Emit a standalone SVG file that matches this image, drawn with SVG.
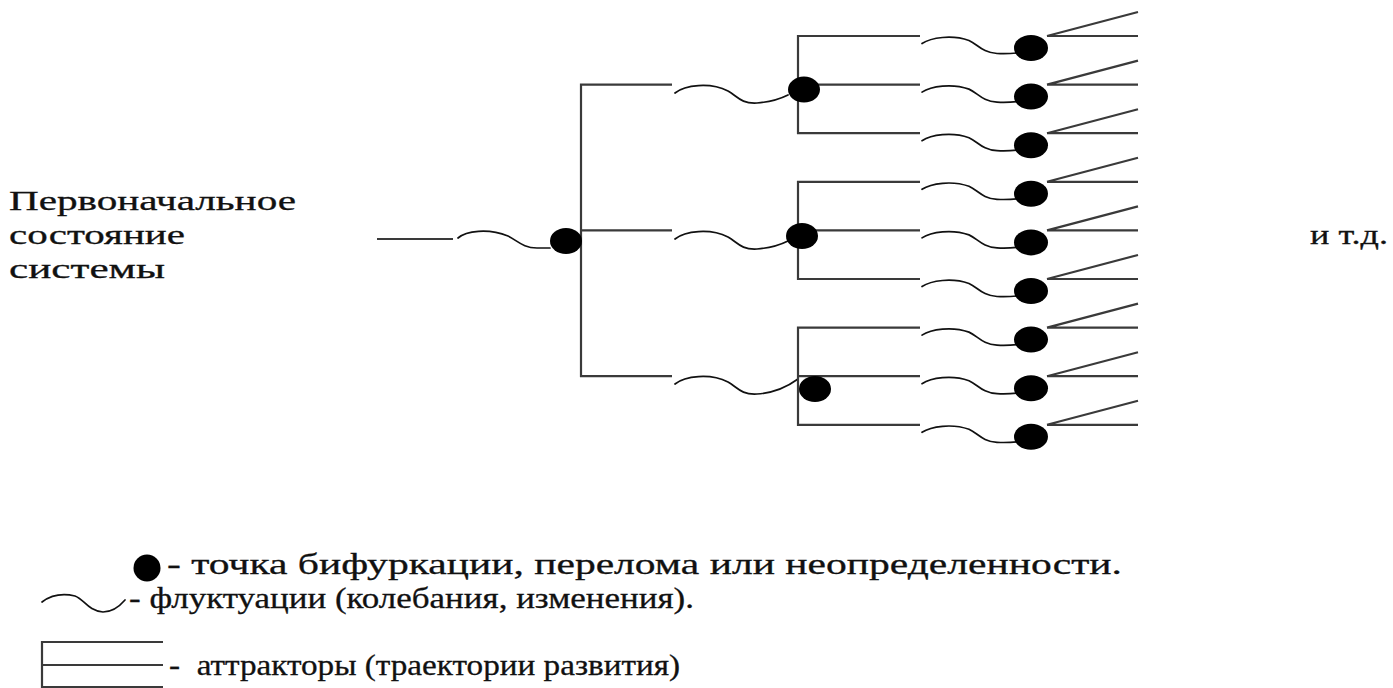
<svg xmlns="http://www.w3.org/2000/svg" xmlns:xlink="http://www.w3.org/1999/xlink" width="1393" height="688" viewBox="0 0 1393 688">
<style>
.ln{stroke:#3a3a3a;stroke-width:2.2;fill:none;stroke-linecap:butt}
.wv{stroke:#111;stroke-width:1.7;fill:none;stroke-linecap:round}
.dot{fill:#000}
.tx{font-family:"Liberation Serif","Times New Roman",serif;font-size:27px;fill:#111;stroke:#111;stroke-width:0.3}
.lg{font-size:29px}
</style>
<defs>
<path id="w3" d="M0,0 C9,-6 30,-9 47,-3 C56,1 60,9 75,10 C84,10.5 90,10 95,9.5"/>
<path id="w2" d="M0,0 C10,-8 35,-11 53,-2 C62,3 66,11 82,10 C95,9 105,6 113,2"/>
<g id="att"><path d="M1047,0 H1138 M1047,0 L1138,-24"/></g>
</defs>
<rect width="1393" height="688" fill="#fff"/>
<g id="connectors">
  <path class="ln" d="M377,239 H453"/>
  <path class="wv" d="M458,238 C466,231 488,228 508,236 C518,241 523,248 537,248 L550,248"/>
  <path class="ln" d="M672,84.6 H581 V376.2 H672 M581,230.4 H672"/>
  <use class="wv" xlink:href="#w2" transform="translate(675,93)"/>
  <use class="wv" xlink:href="#w2" transform="translate(675,239)"/>
  <path class="wv" d="M675,384 C685,376 710,373 728,382 C737,387 741,395 757,394 C773,393 787,387 798,379"/>
  <path class="ln" d="M920,36 H798 V133.2 H920 M798,84.6 H920"/>
  <path class="ln" d="M920,181.8 H798 V279 H920 M798,230.4 H920"/>
  <path class="ln" d="M920,327.6 H798 V424.8 H920 M798,376.2 H920"/>
  <use class="wv" xlink:href="#w3" transform="translate(922,43.5)"/>
  <use class="wv" xlink:href="#w3" transform="translate(922,92.1)"/>
  <use class="wv" xlink:href="#w3" transform="translate(922,140.7)"/>
  <use class="wv" xlink:href="#w3" transform="translate(922,189.3)"/>
  <use class="wv" xlink:href="#w3" transform="translate(922,237.9)"/>
  <use class="wv" xlink:href="#w3" transform="translate(922,286.5)"/>
  <use class="wv" xlink:href="#w3" transform="translate(922,335.1)"/>
  <use class="wv" xlink:href="#w3" transform="translate(922,383.7)"/>
  <use class="wv" xlink:href="#w3" transform="translate(922,432.3)"/>
  <use class="ln" xlink:href="#att" transform="translate(0,36)"/>
  <use class="ln" xlink:href="#att" transform="translate(0,84.6)"/>
  <use class="ln" xlink:href="#att" transform="translate(0,133.2)"/>
  <use class="ln" xlink:href="#att" transform="translate(0,181.8)"/>
  <use class="ln" xlink:href="#att" transform="translate(0,230.4)"/>
  <use class="ln" xlink:href="#att" transform="translate(0,279)"/>
  <use class="ln" xlink:href="#att" transform="translate(0,327.6)"/>
  <use class="ln" xlink:href="#att" transform="translate(0,376.2)"/>
  <use class="ln" xlink:href="#att" transform="translate(0,424.8)"/>
</g>
<g id="n-start">
  <text class="tx" x="9" y="210" textLength="287" lengthAdjust="spacingAndGlyphs">Первоначальное</text>
  <text class="tx" x="9" y="244" textLength="176" lengthAdjust="spacingAndGlyphs">состояние</text>
  <text class="tx" x="9" y="278" textLength="156" lengthAdjust="spacingAndGlyphs">системы</text>
</g>
<g id="n-b1"><ellipse class="dot" cx="566" cy="241" rx="16" ry="13"/></g>
<g id="n-b2a"><ellipse class="dot" cx="804" cy="89.6" rx="16" ry="13"/></g>
<g id="n-b2b"><ellipse class="dot" cx="802" cy="236" rx="16" ry="13"/></g>
<g id="n-b2c"><ellipse class="dot" cx="815" cy="389" rx="16" ry="13"/></g>
<g id="n-b3-1"><ellipse class="dot" cx="1031" cy="48" rx="17" ry="13"/></g>
<g id="n-b3-2"><ellipse class="dot" cx="1031" cy="96.6" rx="17" ry="13"/></g>
<g id="n-b3-3"><ellipse class="dot" cx="1031" cy="145.2" rx="17" ry="13"/></g>
<g id="n-b3-4"><ellipse class="dot" cx="1031" cy="193.8" rx="17" ry="13"/></g>
<g id="n-b3-5"><ellipse class="dot" cx="1031" cy="242.4" rx="17" ry="13"/></g>
<g id="n-b3-6"><ellipse class="dot" cx="1031" cy="291" rx="17" ry="13"/></g>
<g id="n-b3-7"><ellipse class="dot" cx="1031" cy="339.6" rx="17" ry="13"/></g>
<g id="n-b3-8"><ellipse class="dot" cx="1031" cy="388.2" rx="17" ry="13"/></g>
<g id="n-b3-9"><ellipse class="dot" cx="1031" cy="436.8" rx="17" ry="13"/></g>
<g id="n-etc">
  <text class="tx" x="1310" y="244" textLength="78" lengthAdjust="spacingAndGlyphs">и т.д.</text>
</g>
<g id="legend">
  <circle class="dot" cx="147" cy="568" r="13.5"/>
  <text class="tx lg" x="167" y="574" textLength="955" lengthAdjust="spacingAndGlyphs">- точка бифуркации, перелома или неопределенности.</text>
  <path class="wv" d="M42,602 C50,596 62,593 75,596 C84,599 88,611 103,612 C112,612 119,607 125,600"/>
  <text class="tx lg" x="129" y="608" textLength="565" lengthAdjust="spacingAndGlyphs">- флуктуации (колебания, изменения).</text>
  <path class="ln" d="M163,642 H42 V688 M42,665 H163 M42,687 H163"/>
  <text class="tx lg" x="169" y="675" textLength="511" lengthAdjust="spacingAndGlyphs" xml:space="preserve">-  аттракторы (траектории развития)</text>
</g>
</svg>
